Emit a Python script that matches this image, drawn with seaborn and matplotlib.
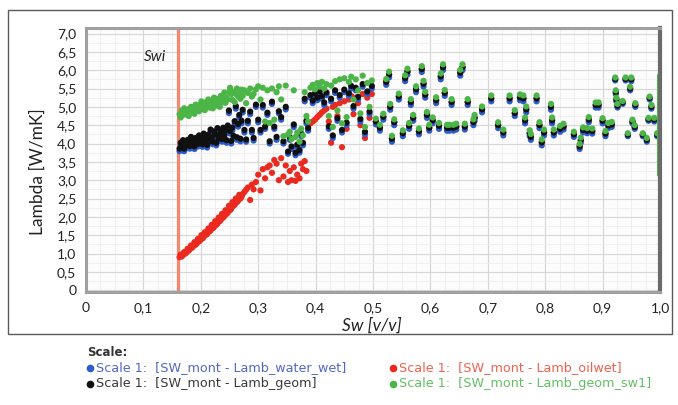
import pandas as pd
import seaborn as sns
import matplotlib.pyplot as plt
from matplotlib.lines import Line2D
from matplotlib.patches import Rectangle
from matplotlib.ticker import MultipleLocator, FuncFormatter

# water saturation of each sample (shared by the four models)
sw = [
    # dense band just above Swi
    0.163, 0.165, 0.167, 0.169, 0.171, 0.173, 0.175, 0.177, 0.179, 0.181,
    0.183, 0.185, 0.187, 0.189, 0.191, 0.193, 0.195, 0.197, 0.199, 0.201,
    0.203, 0.205, 0.207, 0.209, 0.211, 0.213, 0.215, 0.217, 0.219, 0.221,
    0.223, 0.225, 0.227, 0.229, 0.231, 0.233, 0.235, 0.237, 0.239, 0.241,
    0.243, 0.245, 0.247, 0.249, 0.251, 0.253, 0.255, 0.257, 0.259, 0.261,
    0.263, 0.265, 0.267, 0.269, 0.271,
    # 0.27 - 0.50
    0.273, 0.276, 0.279, 0.282, 0.286, 0.289, 0.292, 0.296, 0.300, 0.304,
    0.308, 0.312, 0.316, 0.320, 0.324, 0.328, 0.332, 0.336, 0.340, 0.344,
    0.348, 0.352, 0.355, 0.358, 0.362, 0.365, 0.368, 0.372, 0.375, 0.378,
    0.381, 0.384, 0.387, 0.391, 0.395, 0.399, 0.403, 0.407, 0.411, 0.415,
    0.419, 0.423, 0.427, 0.430, 0.434, 0.438, 0.442, 0.446, 0.450, 0.454,
    0.458, 0.462, 0.466, 0.470, 0.474, 0.478, 0.482, 0.486, 0.490, 0.494,
    0.498,
    # 0.50 - 0.67
    0.505, 0.512, 0.518, 0.523, 0.528, 0.530, 0.533, 0.537, 0.545, 0.552,
    0.556, 0.560, 0.563, 0.566, 0.570, 0.575, 0.580, 0.585, 0.588, 0.591,
    0.594, 0.598, 0.604, 0.610, 0.615, 0.618, 0.622, 0.625, 0.629, 0.633,
    0.637, 0.640, 0.645, 0.652, 0.656, 0.660, 0.665,
    # 0.67 - 0.84
    0.675, 0.677, 0.690, 0.706, 0.718, 0.727, 0.738, 0.747, 0.756, 0.762,
    0.765, 0.767, 0.773, 0.775, 0.785, 0.790, 0.794, 0.798, 0.810, 0.812,
    0.815, 0.826, 0.832,
    # 0.84 - 1.0
    0.850, 0.860, 0.862, 0.866, 0.873, 0.876, 0.882, 0.888, 0.893, 0.900,
    0.905, 0.910, 0.916, 0.922, 0.923, 0.924, 0.926, 0.935, 0.940, 0.944,
    0.948, 0.950, 0.952, 0.956, 0.957, 0.970, 0.977, 0.980, 0.982, 0.985,
    0.990, 0.995,
]

lamb_water_wet = [
    3.79, 3.95, 3.87, 4.02, 3.79, 3.94, 3.87, 4.03, 3.94, 3.86,
    4.11, 4.01, 3.92, 3.85, 4.08, 4.01, 3.92, 4.15, 4.00, 4.10,
    3.91, 4.20, 4.01, 4.09, 3.89, 4.17, 4.00, 4.31, 4.09, 3.98,
    4.26, 4.18, 3.95, 4.35, 4.07, 4.17, 4.29, 4.05, 4.36, 4.15,
    4.28, 4.02, 4.42, 4.83, 4.27, 4.00, 4.36, 4.14, 4.54, 4.95,
    4.10, 4.46, 4.71, 4.06, 4.55,
    4.85, 4.30, 4.05, 4.55, 4.80, 4.30, 4.08, 5.00, 4.58, 4.30,
    4.98, 4.40, 4.78, 4.00, 5.08, 4.40, 4.10, 4.82, 4.65, 4.00,
    4.93, 3.72, 4.10, 3.85, 4.45, 3.68, 3.90, 3.75, 4.20, 3.95,
    5.15, 4.55, 4.35, 5.25, 5.10, 5.30, 5.18, 5.35, 5.22, 5.05,
    5.32, 4.40, 5.15, 4.15, 5.38, 4.62, 5.25, 4.30, 5.40, 4.50,
    5.30, 5.50, 4.95, 5.45, 5.20, 4.60, 5.55, 4.25, 5.35, 4.80,
    5.50,
    4.52, 4.35, 4.65, 5.60, 5.80, 4.92, 4.05, 4.50, 5.20, 4.20,
    5.70, 5.88, 4.40, 5.05, 4.62, 5.40, 4.25, 5.95, 5.55, 5.25,
    4.70, 4.35, 4.55, 5.10, 4.40, 5.75, 6.00, 5.30, 4.35, 4.35,
    5.05, 4.35, 4.38, 5.85, 6.00, 4.38, 5.05,
    4.50, 4.62, 4.85, 5.15, 4.42, 4.22, 5.15, 4.75, 5.18, 5.15,
    4.55, 4.85, 4.20, 4.10, 5.15, 4.42, 3.95, 4.22, 4.92, 4.55,
    4.22, 4.32, 4.38,
    4.18, 3.85, 4.02, 4.30, 4.28, 4.58, 4.27, 4.98, 4.98, 4.55,
    4.20, 4.42, 4.45, 5.72, 5.35, 5.15, 4.98, 5.08, 5.72, 4.20,
    5.45, 5.70, 4.55, 4.40, 5.00, 4.20, 4.05, 4.62, 5.20, 4.95,
    4.60, 4.20,
]

lamb_oilwet = [
    0.90, 0.97, 0.92, 0.96, 1.04, 1.00, 1.03, 1.13, 1.08, 1.12,
    1.22, 1.16, 1.20, 1.31, 1.24, 1.28, 1.40, 1.33, 1.36, 1.50,
    1.41, 1.45, 1.58, 1.51, 1.53, 1.68, 1.60, 1.63, 1.78, 1.69,
    1.72, 1.88, 1.78, 1.82, 1.98, 1.88, 1.92, 2.08, 1.98, 2.02,
    2.18, 2.08, 2.12, 2.30, 2.18, 2.22, 2.40, 2.30, 2.33, 2.50,
    2.40, 2.44, 2.60, 2.50, 2.55,
    2.62, 2.68, 2.74, 2.80, 2.46, 2.88, 2.75, 2.95, 3.15, 2.72,
    3.30, 3.05, 3.35, 3.40, 3.20, 3.55, 3.45, 3.00, 3.60, 3.10,
    3.40, 2.95, 3.25, 3.00, 3.35, 2.98, 3.15, 3.05, 3.45, 3.30,
    3.52, 3.25, 4.50, 4.55, 4.60, 4.65, 4.72, 4.78, 4.85, 4.90,
    4.95, 4.60, 4.02, 5.00, 5.05, 4.75, 5.10, 3.90, 5.15, 4.40,
    5.20, 5.30, 4.80, 5.25, 5.10, 4.50, 5.35, 4.15, 5.25, 4.70,
    5.35,
    4.60, 4.43, 4.73, 5.68, 5.88, 5.00, 4.13, 4.58, 5.28, 4.28,
    5.78, 5.96, 4.48, 5.13, 4.70, 5.48, 4.33, 6.03, 5.63, 5.33,
    4.78, 4.43, 4.63, 5.18, 4.48, 5.83, 6.08, 5.38, 4.43, 4.43,
    5.13, 4.43, 4.46, 5.93, 6.08, 4.46, 5.13,
    4.58, 4.70, 4.93, 5.23, 4.50, 4.30, 5.23, 4.83, 5.26, 5.23,
    4.63, 4.93, 4.28, 4.18, 5.23, 4.50, 4.03, 4.30, 5.00, 4.63,
    4.30, 4.40, 4.46,
    4.25, 3.92, 4.09, 4.37, 4.35, 4.65, 4.34, 5.05, 5.05, 4.62,
    4.27, 4.49, 4.52, 5.76, 5.40, 5.20, 5.03, 5.12, 5.76, 4.24,
    5.50, 5.75, 4.60, 4.45, 5.05, 4.24, 4.10, 4.66, 5.24, 5.00,
    4.65, 4.24,
]

lamb_geom = [
    3.86, 4.02, 3.94, 4.09, 3.86, 4.01, 3.94, 4.10, 4.01, 3.93,
    4.18, 4.08, 3.99, 3.92, 4.15, 4.08, 3.99, 4.22, 4.07, 4.17,
    3.98, 4.27, 4.08, 4.16, 3.96, 4.24, 4.07, 4.38, 4.16, 4.05,
    4.33, 4.25, 4.02, 4.42, 4.14, 4.24, 4.36, 4.12, 4.43, 4.22,
    4.35, 4.09, 4.49, 4.90, 4.34, 4.07, 4.43, 4.21, 4.61, 5.02,
    4.17, 4.53, 4.78, 4.13, 4.62,
    4.92, 4.37, 4.11, 4.62, 4.87, 4.37, 4.15, 5.06, 4.65, 4.37,
    5.05, 4.46, 4.84, 4.06, 5.14, 4.46, 4.18, 4.88, 4.72, 4.06,
    5.00, 3.78, 4.17, 3.92, 4.52, 3.75, 3.97, 3.82, 4.27, 4.02,
    5.22, 4.62, 4.42, 5.32, 5.17, 5.37, 5.25, 5.42, 5.29, 5.12,
    5.39, 4.47, 5.22, 4.22, 5.45, 4.69, 5.32, 4.37, 5.47, 4.57,
    5.37, 5.57, 5.02, 5.52, 5.27, 4.67, 5.62, 4.32, 5.42, 4.87,
    5.57,
    4.60, 4.43, 4.73, 5.68, 5.88, 5.00, 4.13, 4.58, 5.28, 4.28,
    5.78, 5.96, 4.48, 5.13, 4.70, 5.48, 4.33, 6.03, 5.63, 5.33,
    4.78, 4.43, 4.63, 5.18, 4.48, 5.83, 6.08, 5.38, 4.43, 4.43,
    5.13, 4.43, 4.46, 5.93, 6.08, 4.46, 5.13,
    4.58, 4.70, 4.93, 5.23, 4.50, 4.30, 5.23, 4.83, 5.26, 5.23,
    4.63, 4.93, 4.28, 4.18, 5.23, 4.50, 4.03, 4.30, 5.00, 4.63,
    4.30, 4.40, 4.46,
    4.25, 3.92, 4.09, 4.37, 4.35, 4.65, 4.34, 5.05, 5.05, 4.62,
    4.27, 4.49, 4.52, 5.76, 5.40, 5.20, 5.03, 5.12, 5.76, 4.24,
    5.50, 5.75, 4.60, 4.45, 5.05, 4.24, 4.10, 4.66, 5.24, 5.00,
    4.65, 4.24,
]

lamb_geom_sw1 = [
    4.80, 4.71, 4.90, 4.78, 4.96, 4.88, 4.79, 4.93, 4.75, 4.88,
    5.00, 4.85, 4.97, 4.81, 5.06, 4.93, 5.04, 4.88, 5.00, 5.15,
    4.95, 5.05, 4.91, 5.13, 5.04, 5.20, 4.98, 5.15, 5.05, 4.96,
    5.25, 5.13, 5.22, 5.03, 5.19, 5.00, 5.30, 5.12, 5.25, 5.39,
    5.11, 5.25, 5.20, 5.40, 5.52, 5.35, 5.19, 5.41, 5.13, 5.35,
    5.50, 5.28, 5.35, 5.22, 5.47,
    5.30, 5.45, 5.10, 5.38, 5.50, 5.28, 5.35, 5.48, 5.56, 5.20,
    5.52, 4.60, 5.45, 4.56, 5.50, 4.65, 5.40, 5.56, 5.20, 4.20,
    5.58, 4.25, 4.32, 4.12, 5.45, 4.18, 4.30, 4.05, 4.40, 4.22,
    5.40, 4.75, 4.60, 5.52, 5.60, 5.48, 5.65, 5.55, 5.68, 5.50,
    5.62, 4.75, 5.58, 4.45, 5.70, 4.90, 5.75, 4.55, 5.78, 4.72,
    5.68, 5.82, 5.20, 5.75, 5.45, 4.82, 5.85, 4.45, 5.65, 5.00,
    5.72,
    4.68, 4.51, 4.81, 5.76, 5.96, 5.08, 4.21, 4.66, 5.36, 4.36,
    5.86, 6.04, 4.56, 5.21, 4.78, 5.56, 4.41, 6.11, 5.71, 5.41,
    4.86, 4.51, 4.71, 5.26, 4.56, 5.91, 6.16, 5.46, 4.51, 4.51,
    5.21, 4.51, 4.54, 6.01, 6.16, 4.54, 5.21,
    4.66, 4.78, 5.01, 5.31, 4.58, 4.38, 5.31, 4.91, 5.34, 5.31,
    4.71, 5.01, 4.36, 4.26, 5.31, 4.58, 4.11, 4.38, 5.08, 4.71,
    4.38, 4.48, 4.54,
    4.32, 3.99, 4.16, 4.44, 4.42, 4.72, 4.41, 5.12, 5.12, 4.69,
    4.34, 4.56, 4.59, 5.80, 5.45, 5.25, 5.08, 5.16, 5.80, 4.28,
    5.55, 5.80, 4.65, 4.50, 5.10, 4.28, 4.15, 4.70, 5.28, 5.05,
    4.70, 4.28,
]

# extra geom_sw1 points sitting on Sw = 1.0 (the green stripe at the right edge)
sw1_edge_lambda = [3.16, 3.24, 3.33, 3.41, 3.50, 3.58, 3.67, 3.75, 3.84, 3.92, 4.01,
                   4.09, 4.18, 4.26, 4.35, 4.43, 4.52, 4.60, 4.69, 4.77, 4.86, 4.94,
                   5.03, 5.11, 5.20, 5.28, 5.37, 5.45, 5.54, 5.62, 5.71, 5.79, 5.84]

swi = 0.161

series = ["oilwet", "water_wet", "geom", "geom_sw1"]
colours = {"oilwet": "#ea2a1f", "water_wet": "#2d5ccf", "geom": "#101010", "geom_sw1": "#4cb547"}
values = {"oilwet": lamb_oilwet, "water_wet": lamb_water_wet, "geom": lamb_geom, "geom_sw1": lamb_geom_sw1}

frames = []
for name in series:  # order = drawing order
    assert len(values[name]) == len(sw), name
    frames.append(pd.DataFrame({"Sw": sw, "Lambda": values[name], "series": name}))
frames.append(pd.DataFrame({"Sw": [1.0] * len(sw1_edge_lambda), "Lambda": sw1_edge_lambda,
                            "series": "geom_sw1"}))
df = pd.concat(frames, ignore_index=True)

sns.set_style("white")
plt.rcParams["font.family"] = ["Lato", "DejaVu Sans"]

W, H = 678, 405
fig = plt.figure(figsize=(W / 100, H / 100), dpi=100)
fig.patch.set_facecolor("white")
ax = fig.add_axes([86 / W, 1 - 292 / H, (660 - 86) / W, (292 - 28) / H])
ax.set_facecolor("#fcfcfc")

sns.scatterplot(data=df, x="Sw", y="Lambda", hue="series", palette=colours,
                s=20, linewidth=0, legend=False, ax=ax, zorder=2)

ax.axvline(swi, color="#f4876f", lw=2.3, zorder=1)
ax.text(swi - 0.022, 6.37, "Swi", ha="right", va="center", style="italic", fontsize=11, color="#222222")

ax.set_xlim(0, 1.0)
ax.set_ylim(-0.05, 7.15)
ax.xaxis.set_major_locator(MultipleLocator(0.1))
ax.xaxis.set_minor_locator(MultipleLocator(0.025))
ax.yaxis.set_major_locator(MultipleLocator(0.5))
ax.yaxis.set_minor_locator(MultipleLocator(0.25))
comma = FuncFormatter(lambda v, p: "0" if abs(v) < 1e-9 else f"{v:.1f}".replace(".", ","))
ax.xaxis.set_major_formatter(comma)
ax.yaxis.set_major_formatter(comma)
ax.grid(which="major", color="#d6d6d6", lw=0.8)
ax.grid(which="minor", color="#ededed", lw=0.6)
ax.set_axisbelow(True)
ax.tick_params(which="both", length=0, labelsize=10, colors="#222222")
ax.tick_params(axis="x", pad=7)
ax.tick_params(axis="y", pad=7)
ax.set_xlabel("")
ax.set_ylabel("")
for side in ["left", "top", "bottom"]:
    ax.spines[side].set_color("#a0a0a0")
    ax.spines[side].set_linewidth(2.2)
ax.spines["right"].set_color("#6a6a6a")
ax.spines["right"].set_linewidth(3)

fig.text(38 / W, 1 - 172 / H, "Lambda [W/mK]", rotation=90, ha="center", va="center",
         fontsize=12.5, color="#222222")
fig.text(372 / W, 1 - 326 / H, "Sw [v/v]", ha="center", va="center", style="italic",
         fontsize=12.5, color="#222222")

# outer chart border
fig.add_artist(Rectangle((8 / W, 1 - 334 / H), (672 - 8) / W, (334 - 10) / H,
                         transform=fig.transFigure, fill=False, ec="#5a5a5a", lw=1))

# legend below the chart
fig.text(87 / W, 1 - 352 / H, "Scale:", fontsize=8.5, fontweight="bold", color="#333333",
         family="DejaVu Sans", va="center")
legend_rows = [
    (90, 368, "water_wet", "Scale 1:  [SW_mont - Lamb_water_wet]", "#5068c8"),
    (393, 368, "oilwet", "Scale 1:  [SW_mont - Lamb_oilwet]", "#f0614c"),
    (90, 384, "geom", "Scale 1:  [SW_mont - Lamb_geom]", "#3a3a3a"),
    (393, 384, "geom_sw1", "Scale 1:  [SW_mont - Lamb_geom_sw1]", "#64bf64"),
]
for px, py, name, label, tcol in legend_rows:
    fig.add_artist(Line2D([px / W], [1 - py / H], marker="o", ms=5.5, mew=0,
                          color=colours[name], transform=fig.transFigure))
    fig.text((px + 6) / W, 1 - py / H, label, fontsize=9.2, color=tcol, family="DejaVu Sans",
             va="center")

fig.savefig("out.png", dpi=100)
